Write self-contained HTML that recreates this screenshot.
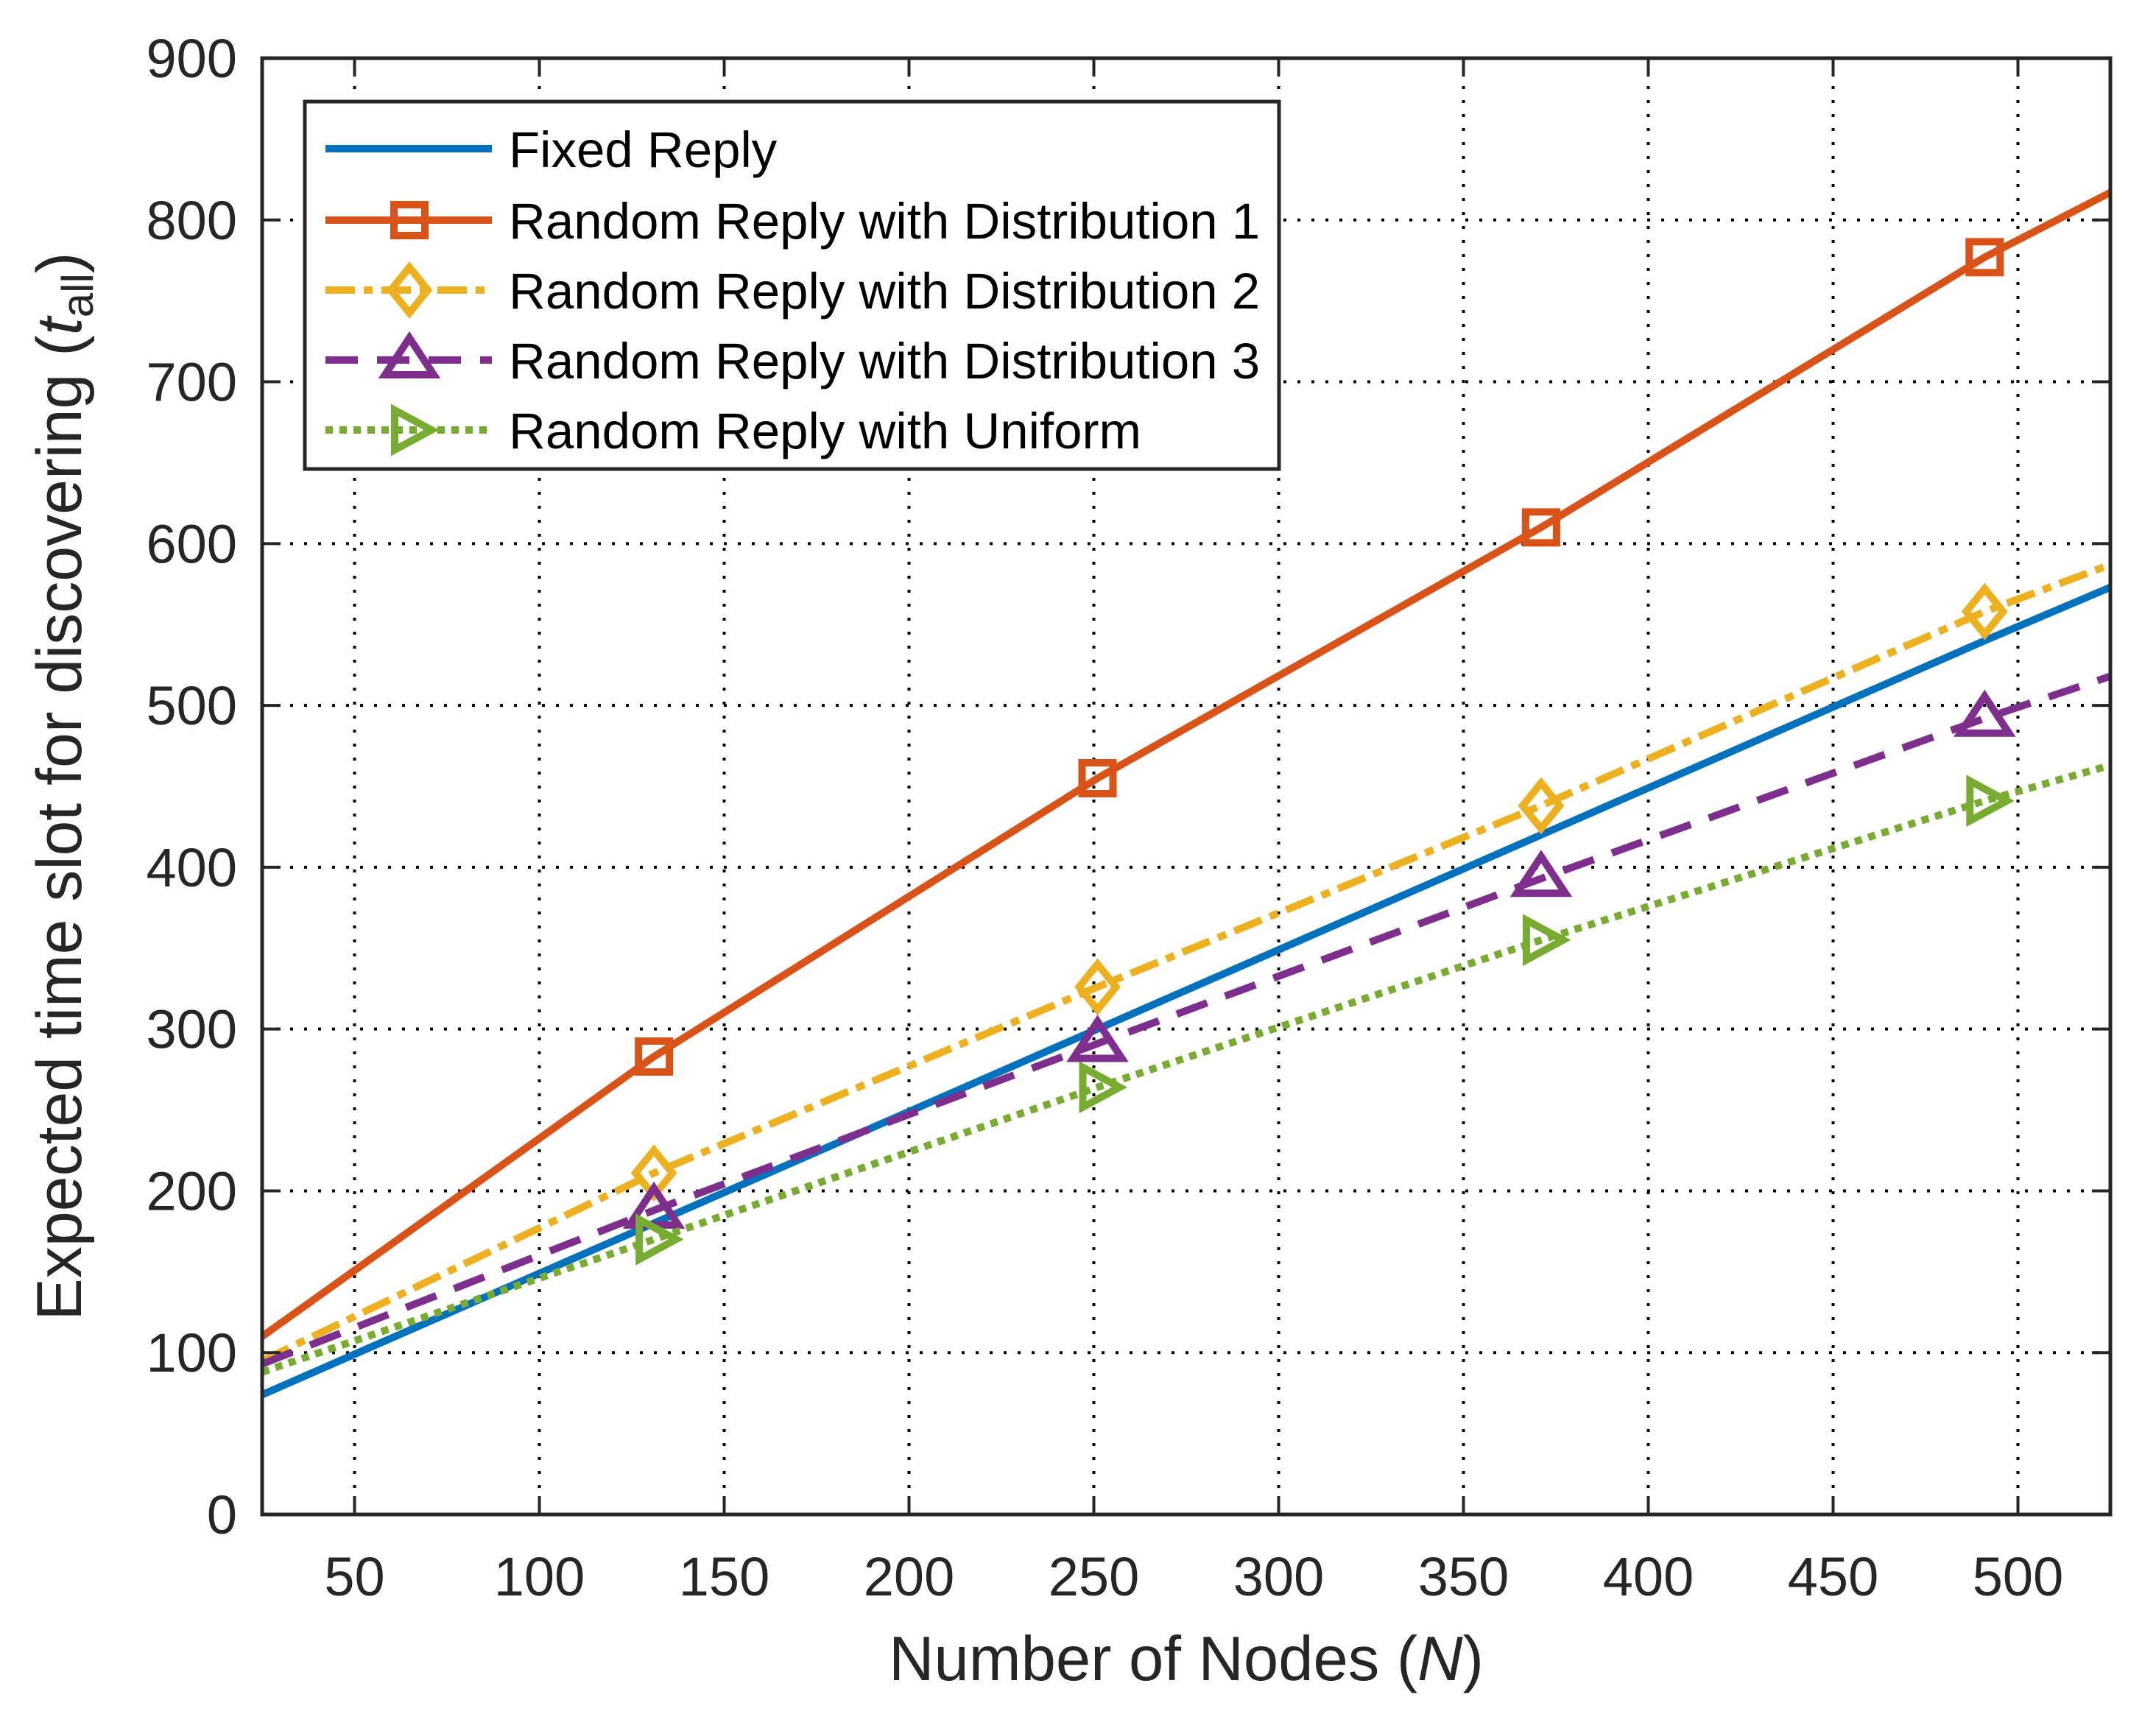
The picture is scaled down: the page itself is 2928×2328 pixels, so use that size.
<!DOCTYPE html>
<html><head><meta charset="utf-8"><style>
html,body{margin:0;padding:0;background:#fff}
svg{display:block}
text{font-family:"Liberation Sans",Arial,sans-serif;fill:#262626}
</style></head><body>
<svg id="chart" width="2928" height="2328" viewBox="0 0 2928 2328" xmlns="http://www.w3.org/2000/svg"></svg>
<script>
const xTicks=[50,100,150,200,250,300,350,400,450,500];
const yTicks=[0,100,200,300,400,500,600,700,800,900];
const xVals=[25,131,251,371,491,525];
const fixedReply=[74,180,300,420,540,573];
const dist1=[110,283,455,610,777,817];
const dist2=[95,211,326,438,558,587];
const dist3=[93,188,291,393,492,518];
const uniform=[88,170,264,355,441,463];
const seriesNames=["Fixed Reply","Random Reply with Distribution 1","Random Reply with Distribution 2","Random Reply with Distribution 3","Random Reply with Uniform"];

const L=356,R=2866,T=79,B=2057,XMIN=25,XMAX=525,YMIN=0,YMAX=900;
const sx=v=>L+(v-XMIN)/(XMAX-XMIN)*(R-L);
const sy=v=>B-(v-YMIN)/(YMAX-YMIN)*(B-T);
const NS="http://www.w3.org/2000/svg";
const svg=document.getElementById('chart');
function mk(tag,attrs,parent){const e=document.createElementNS(NS,tag);for(const k in attrs)e.setAttribute(k,attrs[k]);(parent||svg).appendChild(e);return e;}

const grid=mk('g',{});


xTicks.forEach(t=>{const l=mk('line',{x1:sx(t),x2:sx(t),y1:T,y2:B,stroke:'#000','stroke-width':4,'stroke-dasharray':'4 15'},grid);

});
yTicks.forEach(t=>{const l=mk('line',{x1:L,x2:R,y1:sy(t),y2:sy(t),stroke:'#000','stroke-width':4,'stroke-dasharray':'4 15'},grid);

});

const styles=[
 {data:fixedReply,color:'#0072BD',dash:'',marker:null},
 {data:dist1,color:'#D95319',dash:'',marker:'square'},
 {data:dist2,color:'#EDB120',dash:'40 12 12 12',marker:'diamond'},
 {data:dist3,color:'#7E2F8E',dash:'44 26',marker:'triangle-up'},
 {data:uniform,color:'#77AC30',dash:'10 9',marker:'triangle-right'}];
function marker(type,x,y,color,parent){
 const a={fill:'none',stroke:color,'stroke-width':10,'stroke-linejoin':'miter'};let m;
 if(type==='square')m=mk('rect',Object.assign({x:x-21,y:y-21,width:42,height:42},a),parent);
 else if(type==='diamond')m=mk('polygon',Object.assign({points:`${x},${y-31} ${x+25},${y} ${x},${y+31} ${x-25},${y}`},a),parent);
 else if(type==='triangle-up')m=mk('polygon',Object.assign({points:`${x},${y-30} ${x+33},${y+20} ${x-33},${y+20}`},a),parent);
 else if(type==='triangle-right')m=mk('polygon',Object.assign({points:`${x-20},${y-27} ${x+30},${y} ${x-20},${y+27}`},a),parent);
 return m;
}
const plotG=mk('g',{});


styles.forEach((s,i)=>{
 const g=mk('g',{},plotG);
 
 
 const pts=xVals.map((x,j)=>sx(x)+','+sy(s.data[j])).join(' ');
 const pl=mk('polyline',{points:pts,fill:'none',stroke:s.color,'stroke-width':10,'stroke-dasharray':s.dash},g);
 
 
 if(s.marker){for(let j=1;j<xVals.length-1;j++){const m=marker(s.marker,sx(xVals[j]),sy(s.data[j]),s.color,g);
  
  }}
});

const box=mk('rect',{x:L,y:T,width:R-L,height:B-T,fill:'none',stroke:'#262626','stroke-width':5});


xTicks.forEach(t=>{
 mk('line',{x1:sx(t),x2:sx(t),y1:B,y2:B-25,stroke:'#262626','stroke-width':4});
 mk('line',{x1:sx(t),x2:sx(t),y1:T,y2:T+25,stroke:'#262626','stroke-width':4});
 const tx=mk('text',{x:sx(t),y:2167,'font-size':74,'text-anchor':'middle'});tx.textContent=t;
 
 
});
yTicks.forEach(t=>{
 mk('line',{x1:L,x2:L+25,y1:sy(t),y2:sy(t),stroke:'#262626','stroke-width':4});
 mk('line',{x1:R,x2:R-25,y1:sy(t),y2:sy(t),stroke:'#262626','stroke-width':4});
 const tx=mk('text',{x:322,y:sy(t)+26,'font-size':74,'text-anchor':'end'});tx.textContent=t;
 
 
});
</script>
<svg style="position:absolute;left:0;top:0" width="2928" height="2328" xmlns="http://www.w3.org/2000/svg">
 <text x="1611" y="2282" font-size="85" text-anchor="middle">Number of Nodes (<tspan font-style="italic">N</tspan>)</text>
 <text transform="translate(110,1068) rotate(-90)" font-size="86" text-anchor="middle">Expected time slot for discovering (<tspan font-style="italic">t</tspan><tspan font-size="60" dy="16">all</tspan><tspan dy="-16">)</tspan></text>
 <g>
  <rect x="414" y="138" width="1323" height="499" fill="#fff" stroke="#262626" stroke-width="5"/>
  <g>
   <line x1="442" x2="668" y1="202" y2="202" stroke="#0072BD" stroke-width="10"/>
   <text x="691" y="227" font-size="69" style="fill:#000">Fixed Reply</text>
  </g>
  <g>
   <line x1="442" x2="668" y1="299" y2="299" stroke="#D95319" stroke-width="10"/>
   <rect x="535" y="278" width="42" height="42" fill="none" stroke="#D95319" stroke-width="10"/>
   <text x="691" y="324" font-size="69" style="fill:#000">Random Reply with Distribution 1</text>
  </g>
  <g>
   <line x1="442" x2="668" y1="394" y2="394" stroke="#EDB120" stroke-width="10" stroke-dasharray="40 12 12 12"/>
   <polygon points="556,363 581,394 556,425 531,394" fill="none" stroke="#EDB120" stroke-width="10"/>
   <text x="691" y="419" font-size="69" style="fill:#000">Random Reply with Distribution 2</text>
  </g>
  <g>
   <line x1="442" x2="668" y1="489" y2="489" stroke="#7E2F8E" stroke-width="10" stroke-dasharray="44 26"/>
   <polygon points="556,459 589,509 523,509" fill="none" stroke="#7E2F8E" stroke-width="10"/>
   <text x="691" y="514" font-size="69" style="fill:#000">Random Reply with Distribution 3</text>
  </g>
  <g>
   <line x1="442" x2="668" y1="584" y2="584" stroke="#77AC30" stroke-width="10" stroke-dasharray="10 9"/>
   <polygon points="536,557 586,584 536,611" fill="none" stroke="#77AC30" stroke-width="10"/>
   <text x="691" y="609" font-size="69" style="fill:#000">Random Reply with Uniform</text>
  </g>
 </g>
</svg>
</body></html>
